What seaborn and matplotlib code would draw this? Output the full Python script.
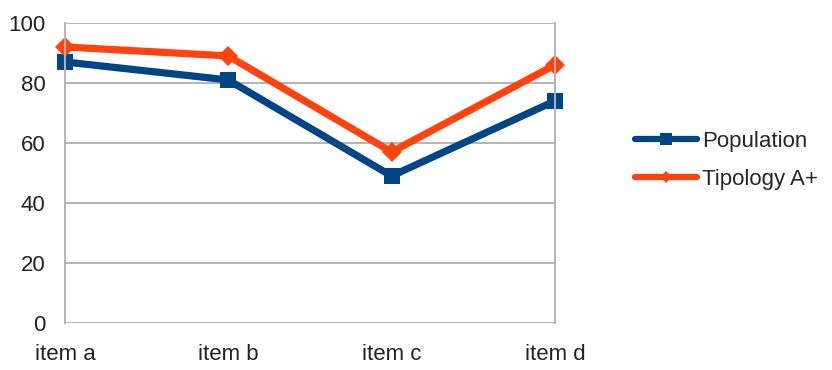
import matplotlib
matplotlib.use('Agg')
import matplotlib.pyplot as plt
import pandas as pd
import seaborn as sns

# Chart values
items = ['item a', 'item b', 'item c', 'item d']
population = [87, 81, 49, 74]
tipology = [92, 89, 57, 86]

df = pd.DataFrame({
    'item': items * 2,
    'value': population + tipology,
    'series': ['Population'] * 4 + ['Tipology A+'] * 4,
})

sns.set_style('white')
plt.rcParams['font.family'] = ['Liberation Sans', 'DejaVu Sans']

fig = plt.figure(figsize=(8.32, 3.70), dpi=100)
ax = fig.add_axes([0.078, 0.127, 0.589, 0.811])

grid_col = '#b3b3b3'
palette = {'Population': '#004586', 'Tipology A+': '#ff420e'}

sns.lineplot(data=df, x='item', y='value', hue='series', style='series',
             palette=palette, markers={'Population': 's', 'Tipology A+': 'D'},
             dashes=False, linewidth=5.2, markersize=12, markeredgewidth=0,
             sort=False, ax=ax)

# diamond a bit smaller than the square
for line in ax.lines:
    line.set_clip_on(False)
    if line.get_marker() == 'D':
        line.set_markersize(10)

ax.set_xlim(0, 3)
ax.set_ylim(0, 100)
ax.set_yticks(range(0, 101, 20))
ax.yaxis.grid(True, color=grid_col, linewidth=1.4)
ax.set_axisbelow(True)
for side in ['top', 'bottom']:
    ax.spines[side].set_visible(False)
for side in ['left', 'right']:
    ax.spines[side].set_color(grid_col)
    ax.spines[side].set_linewidth(1.4)
ax.tick_params(axis='both', colors=grid_col, labelcolor='#222222',
               labelsize=16, width=1.4)
ax.tick_params(axis='y', length=8, pad=6)
ax.tick_params(axis='x', length=9, pad=6)
ax.set_xlabel('')
ax.set_ylabel('')

handles, labels = ax.get_legend_handles_labels()
leg = ax.legend(handles, labels, loc='center left',
                bbox_to_anchor=(0.752, 0.567),
                bbox_transform=fig.transFigure, frameon=False, fontsize=16,
                handlelength=2.8, handletextpad=0.25, labelspacing=0.75,
                borderaxespad=0)
for h in leg.legend_handles:
    h.set_linewidth(4.5)
    h.set_markersize(8 if h.get_marker() == 's' else 6)

fig.savefig('out.png', dpi=100)
